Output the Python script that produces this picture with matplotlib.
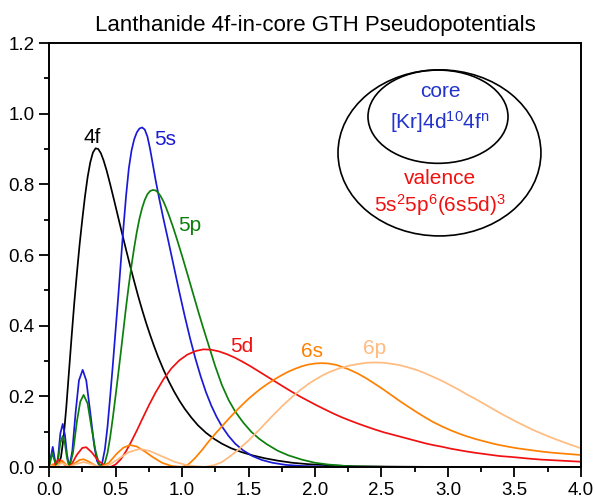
import matplotlib
matplotlib.use("Agg")
import matplotlib.pyplot as plt
from matplotlib.patches import Ellipse
from matplotlib.ticker import MultipleLocator, FormatStrFormatter

plt.rcParams['font.family'] = ['Liberation Sans', 'DejaVu Sans']
plt.rcParams['mathtext.default'] = 'regular'

# radial distributions r^2 R(r)^2, read per orbital
r_4f = [0, 0.05, 0.07, 0.09, 0.11, 0.13, 0.15, 0.17, 0.19, 0.21, 0.23, 0.25, 0.27, 0.29, 0.31,
        0.33, 0.35, 0.37, 0.39, 0.41, 0.434, 0.46, 0.49, 0.52, 0.55, 0.58, 0.61, 0.64, 0.67,
        0.70, 0.73, 0.76, 0.79, 0.82, 0.86, 0.90, 0.94, 0.98, 1.02, 1.07, 1.12, 1.18, 1.24,
        1.30, 1.37, 1.45, 1.53, 1.62, 1.72, 1.83, 1.95, 2.1, 2.3, 2.6, 3.0, 4.0]
p_4f = [0, 0, 0.005, 0.028, 0.085, 0.17, 0.27, 0.37, 0.465, 0.55, 0.63, 0.70, 0.765, 0.82, 0.862,
        0.89, 0.902, 0.90, 0.888, 0.868, 0.838, 0.80, 0.754, 0.707, 0.66, 0.614, 0.569, 0.526,
        0.484, 0.445, 0.408, 0.374, 0.342, 0.312, 0.276, 0.243, 0.214, 0.188, 0.165, 0.14,
        0.118, 0.097, 0.08, 0.066, 0.053, 0.042, 0.033, 0.025, 0.018, 0.012, 0.008, 0.005,
        0.002, 0.001, 0, 0]

r_5s = [0, 0.012, 0.028, 0.042, 0.056, 0.07, 0.085, 0.103, 0.12, 0.135, 0.153, 0.175, 0.20,
        0.225, 0.253, 0.28, 0.31, 0.34, 0.36, 0.383, 0.40, 0.42, 0.44, 0.46, 0.48, 0.50, 0.52,
        0.54, 0.56, 0.58, 0.60, 0.62, 0.64, 0.66, 0.68, 0.70, 0.72, 0.74, 0.76, 0.78, 0.80,
        0.83, 0.86, 0.90, 0.94, 0.98, 1.02, 1.06, 1.10, 1.14, 1.18, 1.22, 1.26, 1.30, 1.35,
        1.40, 1.46, 1.53, 1.60, 1.68, 1.78, 1.90, 2.1, 2.5, 4.0]
p_5s = [0, 0.025, 0.057, 0.025, 0, 0.035, 0.095, 0.122, 0.09, 0.035, 0, 0.045, 0.155, 0.245,
        0.275, 0.245, 0.155, 0.06, 0.018, 0, 0.012, 0.05, 0.115, 0.2, 0.29, 0.385, 0.48, 0.58,
        0.68, 0.77, 0.845, 0.895, 0.927, 0.947, 0.958, 0.961, 0.955, 0.935, 0.9, 0.858, 0.815,
        0.757, 0.703, 0.635, 0.565, 0.495, 0.428, 0.365, 0.308, 0.257, 0.212, 0.174, 0.142,
        0.115, 0.088, 0.066, 0.047, 0.031, 0.02, 0.012, 0.006, 0.003, 0.001, 0, 0]

r_5p = [0, 0.01, 0.022, 0.04, 0.056, 0.07, 0.085, 0.103, 0.12, 0.135, 0.153, 0.18, 0.21, 0.235,
        0.26, 0.29, 0.32, 0.35, 0.375, 0.40, 0.42, 0.44, 0.46, 0.48, 0.50, 0.52, 0.54, 0.56,
        0.58, 0.60, 0.62, 0.64, 0.66, 0.68, 0.70, 0.72, 0.74, 0.76, 0.78, 0.80, 0.82, 0.84,
        0.86, 0.88, 0.90, 0.93, 0.96, 1.00, 1.04, 1.08, 1.12, 1.16, 1.20, 1.25, 1.30, 1.35,
        1.40, 1.46, 1.52, 1.58, 1.64, 1.72, 1.80, 1.90, 2.0, 2.1, 2.26, 2.6, 4.0]
p_5p = [0, 0.015, 0.04, 0.02, 0, 0.025, 0.068, 0.088, 0.065, 0.025, 0, 0.04, 0.13, 0.185, 0.204,
        0.18, 0.11, 0.045, 0.01, 0, 0.012, 0.04, 0.085, 0.14, 0.2, 0.262, 0.325, 0.39, 0.455,
        0.515, 0.57, 0.62, 0.665, 0.703, 0.733, 0.756, 0.772, 0.781, 0.784, 0.783, 0.777, 0.766,
        0.752, 0.734, 0.714, 0.682, 0.647, 0.598, 0.547, 0.495, 0.443, 0.393, 0.345, 0.285,
        0.232, 0.19, 0.157, 0.126, 0.1, 0.08, 0.064, 0.046, 0.033, 0.021, 0.012, 0.007, 0.002,
        0, 0]

r_5d = [0, 0.03, 0.05, 0.075, 0.10, 0.125, 0.14, 0.17, 0.21, 0.25, 0.28, 0.32, 0.37, 0.42, 0.46,
        0.50, 0.54, 0.58, 0.62, 0.66, 0.70, 0.75, 0.80, 0.86, 0.92, 0.98, 1.04, 1.10, 1.16, 1.22,
        1.28, 1.34, 1.40, 1.46, 1.52, 1.58, 1.64, 1.70, 1.76, 1.83, 1.89, 1.95, 2.01, 2.08, 2.14,
        2.20, 2.26, 2.33, 2.39, 2.46, 2.52, 2.58, 2.64, 2.71, 2.77, 2.83, 2.89, 2.96, 3.02, 3.08,
        3.14, 3.21, 3.27, 3.33, 3.39, 3.46, 3.52, 3.6, 3.7, 3.8, 3.9, 4.0]
p_5d = [0, 0.003, 0.012, 0.022, 0.015, 0.004, 0, 0.008, 0.035, 0.054, 0.056, 0.042, 0.018, 0.004,
        0, 0.007, 0.022, 0.045, 0.073, 0.103, 0.135, 0.174, 0.21, 0.248, 0.279, 0.302, 0.318,
        0.328, 0.333, 0.332, 0.327, 0.319, 0.309, 0.297, 0.284, 0.27, 0.256, 0.242, 0.228, 0.212,
        0.199, 0.187, 0.175, 0.162, 0.151, 0.141, 0.132, 0.122, 0.114, 0.105, 0.098, 0.092,
        0.086, 0.079, 0.073, 0.067, 0.062, 0.057, 0.052, 0.048, 0.044, 0.04, 0.037, 0.034,
        0.031, 0.029, 0.027, 0.024, 0.021, 0.019, 0.017, 0.015]

r_6s = [0, 0.015, 0.03, 0.045, 0.056, 0.075, 0.10, 0.125, 0.153, 0.19, 0.23, 0.26, 0.30, 0.35,
        0.39, 0.45, 0.51, 0.56, 0.61, 0.66, 0.72, 0.78, 0.85, 0.92, 1.0, 1.05, 1.10, 1.15, 1.20,
        1.25, 1.30, 1.35, 1.40, 1.45, 1.50, 1.55, 1.60, 1.65, 1.70, 1.75, 1.80, 1.85, 1.90,
        1.95, 2.0, 2.05, 2.10, 2.16, 2.25, 2.32, 2.39, 2.46, 2.52, 2.58, 2.64, 2.70, 2.77, 2.83,
        2.89, 2.96, 3.02, 3.08, 3.14, 3.21, 3.27, 3.33, 3.39, 3.46, 3.52, 3.58, 3.64, 3.72, 3.8,
        3.9, 4.0]
p_6s = [0, 0.004, 0.008, 0.002, 0, 0.012, 0.018, 0.008, 0, 0.01, 0.02, 0.022, 0.015, 0.004, 0,
        0.012, 0.038, 0.055, 0.062, 0.058, 0.044, 0.028, 0.012, 0.003, 0, 0.008, 0.026, 0.048,
        0.072, 0.094, 0.115, 0.136, 0.156, 0.175, 0.193, 0.209, 0.224, 0.237, 0.249, 0.26, 0.27,
        0.278, 0.285, 0.29, 0.293, 0.294, 0.293, 0.289, 0.277, 0.265, 0.25, 0.233, 0.218, 0.202,
        0.186, 0.171, 0.154, 0.14, 0.127, 0.114, 0.104, 0.095, 0.087, 0.079, 0.073, 0.067,
        0.062, 0.057, 0.053, 0.05, 0.047, 0.043, 0.04, 0.037, 0.034]

r_6p = [0, 0.02, 0.05, 0.08, 0.10, 0.125, 0.153, 0.2, 0.26, 0.32, 0.38, 0.40, 0.46, 0.53, 0.60,
        0.67, 0.70, 0.76, 0.85, 0.95, 1.05, 1.17, 1.24, 1.30, 1.36, 1.42, 1.50, 1.58, 1.66, 1.76,
        1.83, 1.89, 1.95, 2.0, 2.06, 2.11, 2.18, 2.26, 2.33, 2.39, 2.45, 2.52, 2.58, 2.64, 2.70,
        2.77, 2.83, 2.89, 2.96, 3.02, 3.08, 3.14, 3.21, 3.27, 3.33, 3.39, 3.46, 3.52, 3.58, 3.64,
        3.72, 3.8, 3.9, 4.0]
p_6p = [0, 0.003, 0, 0.008, 0.011, 0.006, 0, 0.008, 0.014, 0.008, 0.001, 0, 0.008, 0.025, 0.042,
        0.05, 0.05, 0.045, 0.03, 0.014, 0.004, 0, 0.005, 0.014, 0.03, 0.048, 0.075, 0.105, 0.137,
        0.175, 0.199, 0.218, 0.235, 0.247, 0.26, 0.269, 0.279, 0.287, 0.292, 0.295, 0.296, 0.295,
        0.292, 0.288, 0.282, 0.274, 0.265, 0.255, 0.243, 0.231, 0.219, 0.206, 0.192, 0.179,
        0.166, 0.153, 0.139, 0.127, 0.116, 0.105, 0.092, 0.08, 0.066, 0.053]

fig = plt.figure(figsize=(5.95, 4.99), dpi=100)
ax = fig.add_axes([0.0824, 0.0641, 0.894, 0.8497])

lw = 1.25
ax.plot(r_4f, p_4f, color='black', lw=lw)
ax.plot(r_5s, p_5s, color='#1a1ad6', lw=lw)
ax.plot(r_5p, p_5p, color='#0c7f0c', lw=lw)
ax.plot(r_5d, p_5d, color='#f01010', lw=lw)
ax.plot(r_6s, p_6s, color='#ff8000', lw=lw)
ax.plot(r_6p, p_6p, color='#ffbb80', lw=lw)

# orbital labels
ax.text(0.323, 0.934, '4f', color='black', fontsize=15, ha='center', va='center')
ax.text(0.872, 0.926, '5s', color='#1a1ad6', fontsize=15, ha='center', va='center')
ax.text(1.06, 0.684, '5p', color='#0c7f0c', fontsize=15, ha='center', va='center')
ax.text(1.45, 0.34, '5d', color='#f01010', fontsize=15, ha='center', va='center')
ax.text(1.975, 0.326, '6s', color='#ff8000', fontsize=15, ha='center', va='center')
ax.text(2.45, 0.336, '6p', color='#ffbb80', fontsize=15, ha='center', va='center')

# core / valence partition
ax.add_patch(Ellipse((2.936, 0.889), 1.526, 0.47, fill=False, ec='black', lw=1.2))
ax.add_patch(Ellipse((2.925, 0.9915), 1.053, 0.264, fill=False, ec='black', lw=1.2))
ax.text(2.94, 1.062, 'core', color='#2233cc', fontsize=15, ha='center', va='center')
ax.text(2.94, 0.977, '[Kr]4d$^{10}$4f$^{n}$', color='#2233cc', fontsize=15,
        ha='center', va='center')
ax.text(2.94, 0.817, 'valence', color='#f01010', fontsize=15, ha='center', va='center')
ax.text(2.94, 0.742, '5s$^{2}$5p$^{6}$(6s5d)$^{3}$', color='#f01010', fontsize=15,
        ha='center', va='center')

ax.set_xlim(0, 4)
ax.set_ylim(0, 1.2)
ax.xaxis.set_major_locator(MultipleLocator(0.5))
ax.xaxis.set_minor_locator(MultipleLocator(0.25))
ax.yaxis.set_major_locator(MultipleLocator(0.2))
ax.yaxis.set_minor_locator(MultipleLocator(0.1))
ax.xaxis.set_major_formatter(FormatStrFormatter('%.1f'))
ax.yaxis.set_major_formatter(FormatStrFormatter('%.1f'))
ax.tick_params(which='major', direction='out', length=7, width=1.3, labelsize=13.5)
ax.tick_params(which='minor', direction='out', length=3.5, width=1.3)
for s in ax.spines.values():
    s.set_linewidth(1.4)

ax.set_title('Lanthanide 4f-in-core GTH Pseudopotentials', fontsize=16, pad=9)

fig.savefig('out.png', dpi=100)
